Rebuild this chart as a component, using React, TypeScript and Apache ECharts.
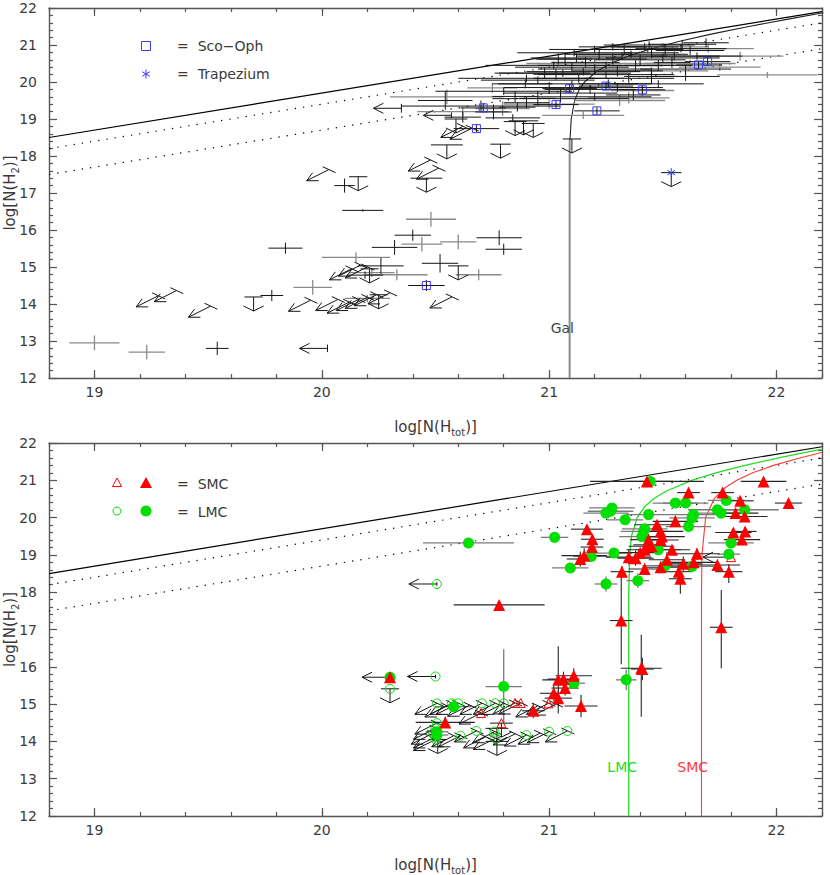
import React, { useEffect, useRef } from 'react';
import * as echarts from 'echarts';

// ---------- axes ----------
const X_MIN = 18.8;
const X_MAX = 22.2;
const Y_MIN = 12;
const Y_MAX = 22;
const xMajorTicks = [19, 20, 21, 22];

// ---------- reference lines (f_H2 = 1, 0.5, 0.1) ----------
const lineF1 = [[18.8, 18.5], [22.2, 21.9]];
const lineF05 = [[18.8, 18.2], [22.2, 21.6]];
const lineF01 = [[18.8, 17.5], [22.2, 20.9]];

// ---------- saturation curves ----------
const galCurveLow = [[21.09, 12], [21.09, 17], [21.0902, 18.4]];
const galCurveHigh = [[21.0902, 18.4], [21.0922, 18.5], [21.097, 19], [21.1118, 19.5], [21.1324, 19.8], [21.1554, 20], [21.212, 20.3], [21.2702, 20.5], [21.3488, 20.7], [21.45, 20.9], [21.5738, 21.1], [21.7178, 21.3], [21.8782, 21.5], [22.0513, 21.7], [22.2056, 21.87]];
const lmcCurve = [[21.35, 12], [21.35, 18], [21.354, 19], [21.362, 19.5], [21.387, 20], [21.421, 20.3], [21.458, 20.5], [21.511, 20.7], [21.627, 21], [21.733, 21.2], [21.861, 21.4], [22.009, 21.6], [22.172, 21.8], [22.198, 21.83]];
const smcCurve = [[21.67, 12], [21.67, 18], [21.672, 19], [21.688, 20], [21.725, 20.5], [21.774, 20.8], [21.825, 21], [21.895, 21.2], [21.987, 21.4], [22.102, 21.6], [22.202, 21.75]];

// ---------- Galactic sample: [x, y, xErr, yErr] ----------
const galDetBlack = [
  [19.54, 12.80, 0.05, 0.18], [19.78, 14.23, 0.05, 0.15], [19.84, 15.51, 0.075, 0.15], [20.10, 17.20, 0.045, 0.19],
  [20.18, 16.53, 0.09, 0.03], [20.26, 15.03, 0.1, 0.22], [20.32, 15.53, 0.1, 0.2], [20.40, 15.86, 0.08, 0.15],
  [20.52, 15.10, 0.08, 0.25], [20.78, 15.79, 0.1, 0.2], [20.80, 15.48, 0.08, 0.15], [20.19, 14.78, 0.08, 0.1],
  [20.543, 19.50, 0.12, 0.25], [20.755, 19.19, 0.08, 0.2], [20.84, 19.03, 0.12, 0.1], [20.85, 19.61, 0.1, 0.15],
  [20.86, 19.32, 0.08, 0.12], [20.90, 19.44, 0.1, 0.15], [20.895, 19.95, 0.12, 0.12], [20.95, 19.56, 0.08, 0.2],
  [20.98, 20.24, 0.2, 0.15], [21.00, 19.85, 0.2, 0.15], [21.03, 20.21, 0.1, 0.15], [21.04, 20.62, 0.1, 0.15],
  [21.05, 19.70, 0.25, 0.12], [21.06, 20.24, 0.3, 0.1], [21.07, 20.62, 0.12, 0.15], [21.10, 19.95, 0.35, 0.1],
  [21.11, 20.79, 0.25, 0.1], [21.13, 20.10, 0.2, 0.12], [21.16, 20.53, 0.15, 0.15], [21.18, 19.80, 0.2, 0.12],
  [21.20, 20.35, 0.25, 0.12], [21.22, 20.75, 0.15, 0.15], [21.26, 19.95, 0.13, 0.12], [21.28, 20.62, 0.15, 0.15],
  [21.30, 20.30, 0.2, 0.15], [21.33, 20.88, 0.15, 0.15], [21.35, 20.10, 0.2, 0.12], [21.37, 19.65, 0.12, 0.15],
  [21.38, 20.44, 0.12, 0.15], [21.40, 20.60, 0.2, 0.15], [21.45, 20.79, 0.12, 0.15], [21.45, 20.15, 0.12, 0.2],
  [21.48, 20.45, 0.15, 0.15], [21.51, 20.88, 0.08, 0.15], [21.54, 20.53, 0.08, 0.15], [21.55, 20.70, 0.2, 0.12],
  [21.585, 21.02, 0.15, 0.12], [21.60, 20.35, 0.2, 0.12], [21.62, 20.85, 0.15, 0.12], [21.69, 21.06, 0.1, 0.12],
  [20.70, 19.35, 0.35, 0.15], [20.62, 19.05, 0.08, 0.15], [21.25, 20.45, 0.3, 0.1], [21.15, 20.28, 0.25, 0.1],
  [21.32, 20.70, 0.2, 0.1], [21.42, 20.95, 0.15, 0.1],
  [20.95, 20.05, 0.25, 0.1], [21.02, 20.45, 0.3, 0.1], [21.12, 20.65, 0.2, 0.12], [21.20, 20.88, 0.2, 0.1],
  [21.28, 20.95, 0.15, 0.1], [21.36, 20.75, 0.25, 0.1], [21.44, 21.00, 0.2, 0.1], [21.50, 20.65, 0.25, 0.12],
  [21.58, 20.90, 0.2, 0.1], [21.25, 20.20, 0.3, 0.1], [21.10, 20.40, 0.25, 0.12], [20.90, 20.10, 0.3, 0.1],
  [20.80, 19.75, 0.3, 0.1], [21.05, 19.55, 0.3, 0.1], [21.20, 19.60, 0.25, 0.1], [21.30, 19.85, 0.2, 0.12],
  [21.48, 19.95, 0.2, 0.1], [21.60, 20.15, 0.15, 0.12], [21.65, 20.70, 0.2, 0.1],
];
const galDetGrey = [
  [19.00, 12.95, 0.11, 0.2], [19.23, 12.70, 0.08, 0.2], [19.96, 14.45, 0.085, 0.2], [20.15, 15.26, 0.15, 0.13],
  [20.48, 16.29, 0.11, 0.2], [20.44, 15.62, 0.09, 0.2], [20.60, 15.68, 0.08, 0.2], [20.33, 14.79, 0.135, 0.15],
  [20.69, 14.79, 0.1, 0.15], [20.22, 14.85, 0.1, 0.12], [20.20, 14.15, 0.1, 0.1],
  [20.55, 19.60, 0.25, 0.2], [20.62, 19.20, 0.2, 0.12], [20.75, 19.84, 0.11, 0.13], [20.795, 19.28, 0.12, 0.2],
  [21.00, 19.40, 0.2, 0.12], [21.15, 19.10, 0.18, 0.1], [21.20, 20.50, 0.3, 0.12], [21.31, 19.50, 0.2, 0.15],
  [21.35, 19.57, 0.18, 0.15], [21.41, 19.77, 0.14, 0.15], [21.50, 20.95, 0.2, 0.1], [21.62, 20.50, 0.2, 0.1],
  [21.70, 20.90, 0.2, 0.1], [21.75, 20.40, 0.18, 0.1], [21.84, 20.70, 0.19, 0.12], [21.96, 20.19, 0.22, 0.08],
  [21.45, 20.30, 0.25, 0.1],
];
// upper limits: [x, y, xErr] (down), [x, y, yErr] (left), [x, y] (diagonal)
const galUpperDown = [
  [19.70, 14.19, 0.04], [20.16, 17.44, 0.04], [20.46, 17.40, 0.07], [20.55, 18.30, 0.07], [20.786, 18.32, 0.045],
  [20.85, 18.93, 0.05], [20.887, 18.95, 0.065], [20.93, 18.88, 0.05], [21.10, 18.46, 0.04], [21.537, 17.55, 0.045],
  [20.60, 15.03, 0.045], [20.59, 19.00, 0.05], [20.21, 14.95, 0.04], [20.25, 14.25, 0.04],
];
const galUpperLeft = [[20.025, 12.80, 0.1], [20.35, 19.29, 0.12], [20.57, 19.10, 0.08]];
const galUpperDiag = [
  [19.28, 14.22], [19.36, 14.36], [19.51, 13.94], [19.95, 14.10], [20.03, 17.63], [20.477, 17.89], [20.513, 17.67],
  [20.572, 14.19], [20.07, 14.12], [20.12, 14.05], [20.16, 14.12], [20.20, 14.18], [20.24, 14.25], [20.30, 14.30],
  [20.13, 14.95], [20.17, 15.05], [20.20, 15.00], [20.62, 18.80], [20.66, 18.75],
];
const scoOph = [
  [20.46, 14.50, 0.08, 0.15], [20.68, 18.74, 0.1, 0.1], [20.71, 19.30, 0.1, 0.12], [21.03, 19.39, 0.1, 0.12],
  [21.09, 19.82, 0.12, 0.12], [21.21, 19.22, 0.1, 0.1], [21.25, 19.89, 0.12, 0.1], [21.41, 19.79, 0.1, 0.1],
  [21.657, 20.46, 0.1, 0.1], [21.697, 20.55, 0.1, 0.1],
];
const trapezium = [[21.537, 17.55]];

// ---------- Magellanic Clouds: [x, y, xErr, yErrUp, yErrDown] ----------
const smcDet = [
  [21.43, 20.97, 0.25, 0.05, 0.05], [21.613, 20.67, 0.05, 0.1, 0.1], [21.763, 20.67, 0.05, 0.1, 0.1], [21.943, 20.97, 0.1, 0.1, 0.1],
  [22.053, 20.39, 0.06, 0.05, 0.05], [21.84, 20.45, 0.06, 0.1, 0.1], [21.82, 20.12, 0.1, 0.1, 0.1], [21.86, 20.03, 0.1, 0.15, 0.15],
  [21.81, 19.60, 0.08, 0.1, 0.1], [21.862, 19.63, 0.05, 0.1, 0.1], [21.848, 19.41, 0.08, 0.1, 0.1], [21.74, 18.73, 0.1, 0.15, 0.15],
  [21.79, 18.55, 0.06, 0.2, 0.3], [21.757, 17.06, 0.05, 1.0, 1.1], [21.555, 19.90, 0.1, 0.15, 0.15], [21.474, 19.81, 0.1, 0.1, 0.1],
  [21.49, 19.63, 0.1, 0.1, 0.1], [21.496, 19.49, 0.1, 0.1, 0.1], [21.49, 19.40, 0.08, 0.1, 0.1], [21.437, 19.41, 0.08, 0.1, 0.1],
  [21.43, 19.27, 0.06, 0.1, 0.1], [21.45, 19.23, 0.1, 0.1, 0.1], [21.42, 19.14, 0.08, 0.15, 0.15], [21.40, 19.06, 0.1, 0.1, 0.1],
  [21.54, 19.14, 0.08, 0.1, 0.1], [21.65, 19.03, 0.1, 0.15, 0.15], [21.635, 18.80, 0.1, 0.15, 0.15], [21.59, 18.76, 0.08, 0.2, 0.2],
  [21.518, 18.87, 0.08, 0.2, 0.2], [21.49, 18.67, 0.08, 0.15, 0.15], [21.57, 18.55, 0.06, 0.2, 0.2], [21.577, 18.36, 0.05, 0.2, 0.4],
  [21.42, 18.62, 0.07, 0.15, 0.15], [21.38, 18.91, 0.08, 0.2, 0.2], [21.35, 18.94, 0.1, 0.2, 0.2], [21.32, 18.55, 0.05, 0.15, 0.15],
  [21.317, 17.24, 0.05, 1.3, 1.17], [21.166, 19.69, 0.07, 0.1, 0.1], [21.19, 19.42, 0.05, 0.1, 0.1], [21.188, 19.21, 0.05, 0.1, 0.1],
  [21.154, 18.98, 0.1, 0.2, 0.2], [21.137, 18.89, 0.06, 0.2, 0.2], [20.78, 17.66, 0.2, 0.05, 0.05], [21.405, 15.96, 0.09, 0.9, 1.3],
  [21.41, 15.94, 0.05, 0.3, 0.3], [21.108, 15.76, 0.08, 0.2, 0.2], [21.04, 15.65, 0.07, 0.9, 0.9], [21.063, 15.67, 0.07, 0.2, 0.2],
  [21.02, 15.29, 0.06, 0.2, 0.2], [21.07, 15.43, 0.06, 0.2, 0.2], [21.04, 15.16, 0.06, 0.2, 0.2], [21.14, 14.95, 0.073, 0.3, 0.3],
  [20.93, 14.82, 0.05, 0.2, 0.2], [20.543, 14.51, 0.13, 0.15, 0.15],
];
const lmcDet = [
  [21.445, 20.97, 0.1, 0.05, 0.05], [21.779, 20.46, 0.08, 0.1, 0.1], [21.86, 20.21, 0.15, 0.1, 0.1], [21.74, 20.21, 0.13, 0.1, 0.1],
  [21.756, 20.12, 0.1, 0.1, 0.1], [21.80, 19.32, 0.1, 0.1, 0.1], [21.79, 19.02, 0.05, 0.1, 0.1], [21.555, 20.39, 0.1, 0.1, 0.1],
  [21.60, 20.39, 0.1, 0.1, 0.1], [21.635, 20.08, 0.1, 0.1, 0.1], [21.628, 19.99, 0.1, 0.1, 0.1], [21.613, 19.76, 0.1, 0.1, 0.1],
  [21.437, 20.08, 0.1, 0.1, 0.1], [21.42, 19.70, 0.1, 0.1, 0.1], [21.415, 19.63, 0.1, 0.1, 0.1], [21.408, 19.49, 0.1, 0.1, 0.1],
  [21.48, 19.14, 0.1, 0.1, 0.1], [21.628, 18.69, 0.1, 0.1, 0.1], [21.51, 18.71, 0.1, 0.1, 0.1], [21.39, 18.31, 0.05, 0.2, 0.2],
  [21.285, 19.05, 0.08, 0.1, 0.1], [21.25, 18.22, 0.05, 0.2, 0.2], [21.276, 20.26, 0.1, 0.1, 0.1], [21.27, 20.17, 0.1, 0.1, 0.1],
  [21.25, 20.12, 0.1, 0.1, 0.1], [21.334, 19.94, 0.08, 0.1, 0.1], [21.185, 18.96, 0.08, 0.1, 0.1], [21.093, 18.65, 0.08, 0.05, 0.05],
  [21.024, 19.47, 0.06, 0.05, 0.05], [20.645, 19.32, 0.2, 0.1, 0.1], [21.339, 15.65, 0.045, 0.27, 0.27], [21.108, 15.56, 0.05, 0.1, 0.1],
  [20.80, 15.47, 0.08, 1.0, 1.0], [20.58, 14.93, 0.08, 0.1, 0.1], [20.506, 14.26, 0.05, 0.1, 0.1], [20.506, 14.17, 0.05, 0.1, 0.1],
];
const lmcDetLeft = [[20.30, 15.72, 0.05]];
const smcDetLeft = [[20.30, 15.72, 0.05]];
const lmcUpperDiag = [
  [20.506, 15.02], [20.572, 15.02], [20.60, 15.02], [20.704, 15.02], [20.763, 15.02], [20.80, 15.02],
  [20.506, 14.49], [20.61, 14.15], [20.68, 14.28], [20.76, 14.26], [20.763, 14.08], [20.90, 14.17],
  [21.00, 14.26], [21.08, 14.28], [20.49, 14.22], [20.50, 14.35], [20.50, 14.05], [20.50, 14.12],
];
const lmcUpperLeft = [[20.506, 18.22, 0.05], [20.50, 15.74, 0.05]];
const lmcUpperDown = [[20.30, 15.41, 0.04]];
const smcUpperDiag = [[20.70, 14.76], [20.85, 15.03], [20.875, 15.03], [20.997, 15.02]];
const smcUpperDown = [[20.79, 14.49, 0.05]];
const smcUpperLeft = [[21.80, 18.94, 0.05]];
const mcOtherDiag = [[20.55, 14.95], [20.65, 14.97], [20.95, 14.95], [21.03, 15.00], [20.58, 14.15], [20.72, 14.12], [20.85, 14.20], [20.96, 14.22]];
const mcOtherDown = [[20.51, 14.05, 0.04], [20.77, 14.35, 0.05], [20.77, 14.00, 0.05]];

// ---------- styling ----------
const INK = '#161616';
const GREY = '#8a8a8a';
const AXIS = '#555';
const TXT = '#3a3a3a';
const FONT = 'DejaVu Sans';
const BLUE = '#3a3aff';
const RED = '#ff0000';
const GREEN = '#00e000';

type Kind = 'cross' | 'down' | 'left' | 'diag' | 'star';

function makeRender(kind: Kind, color: string, width = 1) {
  return (_params: any, api: any) => {
    const x = api.value(0);
    const y = api.value(1);
    const p = api.coord([x, y]);
    const L = (a: number[], b: number[]) => ({
      type: 'line',
      shape: { x1: a[0], y1: a[1], x2: b[0], y2: b[1] },
      style: { stroke: color, lineWidth: width },
    });
    const ch: any[] = [];
    if (kind === 'cross') {
      const xe = api.value(2);
      const yu = api.value(3);
      const yd = api.value(4);
      ch.push(L(api.coord([x - xe, y]), api.coord([x + xe, y])));
      ch.push(L(api.coord([x, y + yu]), api.coord([x, y - yd])));
    } else if (kind === 'down') {
      const xe = api.value(2);
      ch.push(L(api.coord([x - xe, y]), api.coord([x + xe, y])));
      const b = [p[0], p[1] + 14];
      ch.push(L(p, b), L([p[0] - 10, p[1] + 9], b), L([p[0] + 10, p[1] + 9], b));
    } else if (kind === 'left') {
      const ye = api.value(2);
      const t = [p[0] - 28, p[1]];
      ch.push(L(p, t), L(t, [t[0] + 10, t[1] - 5]), L(t, [t[0] + 10, t[1] + 5]));
      ch.push(L(api.coord([x, y + ye]), api.coord([x, y - ye])));
    } else if (kind === 'diag') {
      const tip = [p[0] - 22, p[1] + 11];
      ch.push(L(p, tip), L(tip, [tip[0] + 12, tip[1]]), L(tip, [tip[0] + 6, tip[1] - 8]));
      ch.push(L([p[0] - 6, p[1] - 3], [p[0] + 7, p[1] + 3]));
    } else if (kind === 'star') {
      const r = 4.5;
      ch.push(L([p[0], p[1] - r], [p[0], p[1] + r]));
      ch.push(L([p[0] - r * 0.87, p[1] - r * 0.5], [p[0] + r * 0.87, p[1] + r * 0.5]));
      ch.push(L([p[0] - r * 0.87, p[1] + r * 0.5], [p[0] + r * 0.87, p[1] - r * 0.5]));
    }
    return { type: 'group', children: ch };
  };
}

const norm5 = (arr: number[][]) => arr.map((d) => [d[0], d[1], d[2], d[3], d.length > 4 ? d[4] : d[3]]);

function glyphs(data: number[][], kind: Kind, color: string, xi: number, yi: number, z = 3, width = 1) {
  return {
    type: 'custom',
    xAxisIndex: xi,
    yAxisIndex: yi,
    renderItem: makeRender(kind, color, width),
    data: kind === 'cross' ? norm5(data) : data,
    clip: true,
    silent: true,
    z,
  };
}

function refLine(data: number[][], color: string, type: any, xi: number, yi: number, width = 1.2) {
  return {
    type: 'line',
    xAxisIndex: xi,
    yAxisIndex: yi,
    data,
    symbol: 'none',
    silent: true,
    clip: true,
    lineStyle: { color, type, width },
    z: 2,
  };
}

function marks(data: number[][], symbol: string, size: number, fill: string, stroke: string, xi: number, yi: number, z = 6) {
  return {
    type: 'scatter',
    xAxisIndex: xi,
    yAxisIndex: yi,
    data: data.map((d) => [d[0], d[1]]),
    symbol,
    symbolSize: size,
    silent: true,
    itemStyle: { color: fill, borderColor: stroke, borderWidth: fill === 'transparent' ? 1 : 0, opacity: 1 },
    z,
  };
}

const richName = {
  n: { fontSize: 15, fontFamily: FONT, color: TXT, lineHeight: 18, verticalAlign: 'top' },
  s: { fontSize: 10, fontFamily: FONT, color: TXT, lineHeight: 18, verticalAlign: 'bottom' },
};

function axesFor(gridIndex: number) {
  const lineStyle = { color: AXIS, width: 1.4 };
  const tickStyle = { color: AXIS, width: 1.2 };
  const base = { gridIndex, type: 'value', min: X_MIN, max: X_MAX, splitLine: { show: false } };
  const xAxes = [
    {
      ...base,
      position: 'bottom',
      interval: 0.2,
      axisLine: { show: true, onZero: false, lineStyle },
      axisTick: { show: true, inside: true, length: 4, lineStyle: tickStyle },
      axisLabel: {
        show: true,
        margin: 7,
        color: TXT,
        fontSize: 14,
        fontFamily: FONT,
        formatter: (v: number) => (Math.abs(v - Math.round(v)) < 1e-6 ? String(Math.round(v)) : ''),
      },
      name: '{n|log[N(H}{s|tot}{n|)]}',
      nameLocation: 'middle',
      nameGap: 41,
      nameMoveOverlap: false,
      nameTextStyle: { rich: richName },
    },
    {
      ...base,
      position: 'top',
      interval: 0.2,
      axisLine: { show: true, onZero: false, lineStyle },
      axisTick: { show: true, inside: true, length: 4, lineStyle: tickStyle },
      axisLabel: { show: false },
    },
    {
      ...base,
      position: 'bottom',
      axisLine: { show: false, onZero: false },
      axisTick: { show: true, inside: true, length: 8, customValues: xMajorTicks, lineStyle: tickStyle },
      axisLabel: { show: false },
    },
    {
      ...base,
      position: 'top',
      axisLine: { show: false, onZero: false },
      axisTick: { show: true, inside: true, length: 8, customValues: xMajorTicks, lineStyle: tickStyle },
      axisLabel: { show: false },
    },
  ];
  const ybase = {
    gridIndex,
    type: 'value',
    min: Y_MIN,
    max: Y_MAX,
    interval: 1,
    splitLine: { show: false },
    minorSplitLine: { show: false },
    axisLine: { show: true, onZero: false, lineStyle },
    axisTick: { show: true, inside: true, length: 8, lineStyle: tickStyle },
    minorTick: { show: true, splitNumber: 5, length: 4, lineStyle: tickStyle },
  };
  const yAxes = [
    {
      ...ybase,
      position: 'left',
      axisLabel: { show: true, margin: 12, color: TXT, fontSize: 14, fontFamily: FONT },
      name: '{n|log[N(H}{s|2}{n|)]}',
      nameLocation: 'middle',
      nameGap: 29,
      nameMoveOverlap: false,
      nameTextStyle: { rich: richName },
    },
    { ...ybase, position: 'right', axisLabel: { show: false } },
  ];
  return { xAxes, yAxes };
}

export default function App() {
  const ref = useRef<HTMLDivElement>(null);
  useEffect(() => {
    if (!ref.current) return;
    const chart = echarts.init(ref.current, undefined, { renderer: 'svg' });
    const a0 = axesFor(0);
    const a1 = axesFor(1);
    const T = [0, 0];
    const B = [4, 2];
    const series: any[] = [
      // top panel
      refLine(lineF1, '#000', 'solid', T[0], T[1]),
      refLine(lineF05, '#000', [1.3, 7], T[0], T[1]),
      refLine(lineF01, '#000', [1.3, 7], T[0], T[1]),
      refLine(galCurveLow, '#8c8c8c', 'solid', T[0], T[1], 2),
      refLine(galCurveHigh, '#222', 'solid', T[0], T[1], 1.1),
      glyphs(galDetGrey, 'cross', GREY, T[0], T[1], 3, 1.3),
      glyphs(galDetBlack, 'cross', INK, T[0], T[1], 4),
      glyphs(scoOph, 'cross', INK, T[0], T[1], 4),
      glyphs(galUpperDown, 'down', INK, T[0], T[1], 4),
      glyphs(galUpperLeft, 'left', INK, T[0], T[1], 4),
      glyphs(galUpperDiag, 'diag', INK, T[0], T[1], 4),
      marks(scoOph, 'rect', 8, 'transparent', BLUE, T[0], T[1]),
      glyphs(trapezium, 'star', BLUE, T[0], T[1], 6),
      // bottom panel
      refLine(lineF1, '#000', 'solid', B[0], B[1]),
      refLine(lineF05, '#000', [1.3, 7], B[0], B[1]),
      refLine(lineF01, '#000', [1.3, 7], B[0], B[1]),
      refLine(lmcCurve, '#22dd22', 'solid', B[0], B[1], 1.3),
      refLine(smcCurve, '#ff3a3a', 'solid', B[0], B[1], 1.1),
      glyphs(lmcDet, 'cross', '#7a7a7a', B[0], B[1], 3, 1.3),
      glyphs(smcDet, 'cross', '#262626', B[0], B[1], 4, 1.1),
      glyphs(lmcDetLeft, 'left', INK, B[0], B[1], 4),
      glyphs(lmcUpperDiag, 'diag', INK, B[0], B[1], 4),
      glyphs(smcUpperDiag, 'diag', INK, B[0], B[1], 4),
      glyphs(mcOtherDiag, 'diag', INK, B[0], B[1], 4),
      glyphs(lmcUpperLeft, 'left', INK, B[0], B[1], 4),
      glyphs(smcUpperLeft, 'left', INK, B[0], B[1], 4),
      glyphs(lmcUpperDown, 'down', INK, B[0], B[1], 4),
      glyphs(smcUpperDown, 'down', INK, B[0], B[1], 4),
      glyphs(mcOtherDown, 'down', INK, B[0], B[1], 4),
      marks(lmcUpperDiag, 'circle', 9, 'transparent', GREEN, B[0], B[1]),
      marks(lmcUpperLeft, 'circle', 9, 'transparent', GREEN, B[0], B[1]),
      marks(lmcUpperDown, 'circle', 9, 'transparent', GREEN, B[0], B[1]),
      marks(smcUpperDiag, 'triangle', 9, 'transparent', RED, B[0], B[1]),
      marks(smcUpperDown, 'triangle', 9, 'transparent', RED, B[0], B[1]),
      marks(smcUpperLeft, 'triangle', 9, 'transparent', RED, B[0], B[1]),
      marks(lmcDet, 'circle', 11, GREEN, GREEN, B[0], B[1], 6),
      marks(lmcDetLeft, 'circle', 11, GREEN, GREEN, B[0], B[1], 6),
      marks(smcDet, 'triangle', 12, RED, RED, B[0], B[1], 7),
      marks(smcDetLeft, 'triangle', 12, RED, RED, B[0], B[1], 7),
    ];

    const txt = (x: number, y: number, text: string, fill: string, align = 'left') => ({
      type: 'text',
      x,
      y,
      style: { text, fill, font: `14px "${FONT}"`, textAlign: align, textVerticalAlign: 'middle' },
      silent: true,
      z: 10,
    });
    const gline = (x1: number, y1: number, x2: number, y2: number, stroke: string) => ({
      type: 'line',
      shape: { x1, y1, x2, y2 },
      style: { stroke, lineWidth: 1 },
      silent: true,
      z: 10,
    });

    chart.setOption({
      animation: false,
      backgroundColor: '#fff',
      grid: [
        { left: 49, top: 8, width: 773, height: 370, containLabel: false, outerBoundsMode: 'none' },
        { left: 49, top: 443, width: 773, height: 373, containLabel: false, outerBoundsMode: 'none' },
      ],
      xAxis: [...a0.xAxes, ...a1.xAxes],
      yAxis: [...a0.yAxes, ...a1.yAxes],
      series,
      graphic: [
        // top legend
        { type: 'rect', shape: { x: 141.5, y: 41.5, width: 9, height: 9 }, style: { fill: 'none', stroke: BLUE, lineWidth: 1 }, silent: true, z: 10 },
        txt(177, 46, '=  Sco\u2212Oph', TXT),
        gline(146, 69.5, 146, 78.5, BLUE),
        gline(142.1, 71.7, 149.9, 76.3, BLUE),
        gline(142.1, 76.3, 149.9, 71.7, BLUE),
        txt(177, 74, '=  Trapezium', TXT),
        // bottom legend
        { type: 'polygon', shape: { points: [[117, 478], [112.5, 486.5], [121.5, 486.5]] }, style: { fill: 'none', stroke: RED, lineWidth: 1 }, silent: true, z: 10 },
        { type: 'polygon', shape: { points: [[146, 477], [140, 488], [152, 488]] }, style: { fill: RED }, silent: true, z: 10 },
        txt(177, 484, '=  SMC', TXT),
        { type: 'circle', shape: { cx: 117, cy: 511, r: 4 }, style: { fill: 'none', stroke: GREEN, lineWidth: 1 }, silent: true, z: 10 },
        { type: 'circle', shape: { cx: 146, cy: 511, r: 5.5 }, style: { fill: GREEN }, silent: true, z: 10 },
        txt(177, 512, '=  LMC', TXT),
        // curve labels
        txt(574, 328, 'Gal', '#444', 'right'),
        txt(637, 767, 'LMC', '#22dd22', 'right'),
        txt(708, 767, 'SMC', '#ff3a3a', 'right'),
      ],
    });
    return () => chart.dispose();
  }, []);
  return (
    <div
      ref={ref}
      style={{ position: 'fixed', left: 0, top: 0, width: 830, height: 875, background: '#fff' }}
    />
  );
}
